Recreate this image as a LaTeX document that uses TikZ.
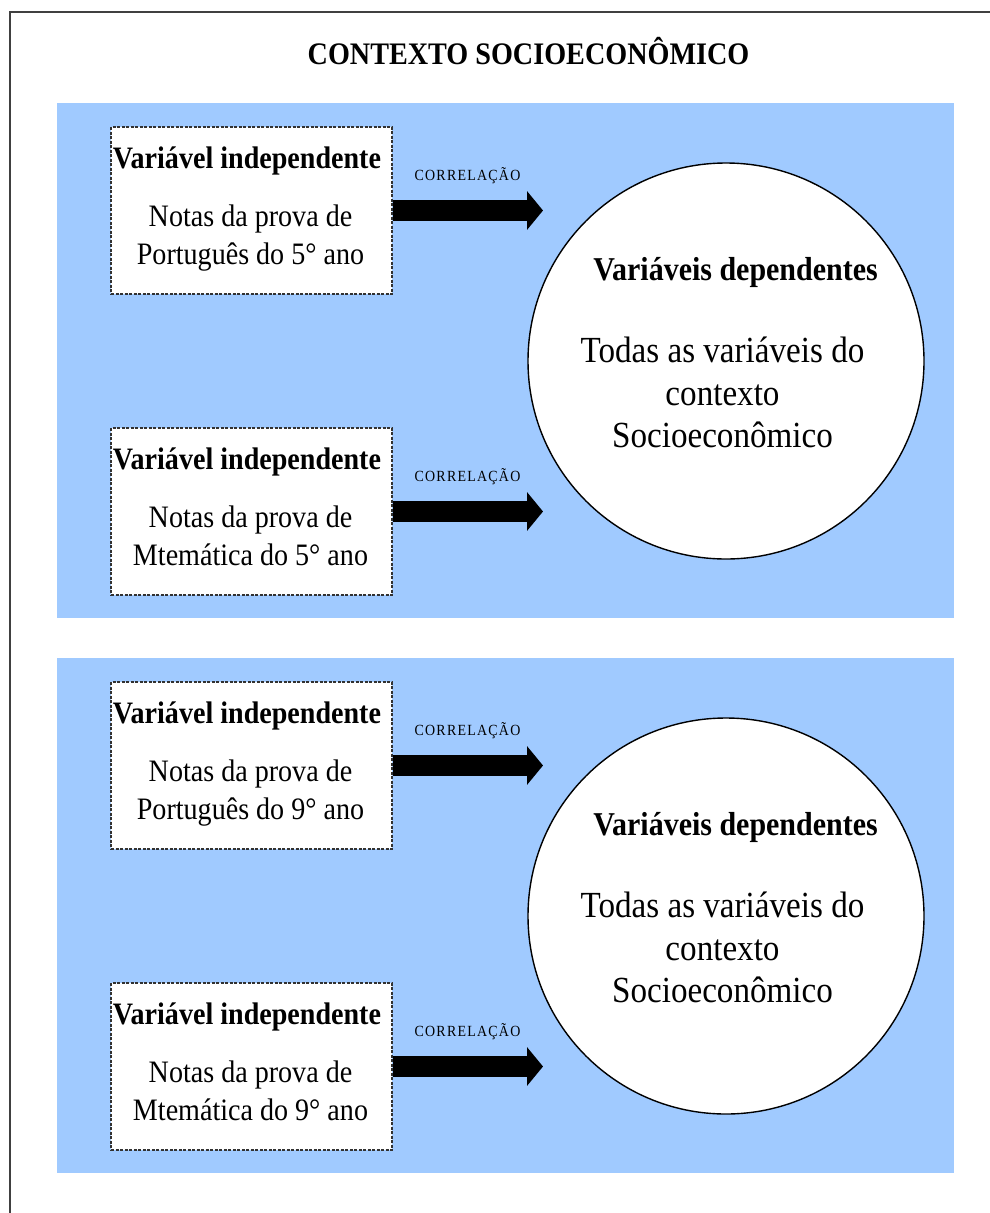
\documentclass[tikz,border=0pt]{standalone}
\usepackage{fontspec}
\setmainfont{Liberation Serif}[FakeStretch=0.9]
\usetikzlibrary{arrows.meta}
\definecolor{panelblue}{RGB}{160,202,255}
\definecolor{framegray}{RGB}{64,64,64}
\definecolor{boxgray}{RGB}{50,50,50}
\tikzset{
  panel/.style={fill=panelblue, draw=none},
  frameline/.style={draw=framegray, line width=1.5pt},
  varbox/.style={draw=boxgray, dash pattern=on 3pt off 1.5pt, line width=1.3pt, fill=white,
    minimum width=281pt, minimum height=167pt, inner sep=0pt},
  depcirc/.style={circle, draw=black, line width=1.4pt, fill=white, minimum size=396pt, inner sep=0pt},
  bigarrow/.style={line width=21pt, draw=black, -{Triangle[length=16pt,width=38pt]}},
  titletext/.style={anchor=base, inner sep=0pt, font=\fontsize{31.3}{36}\selectfont\bfseries},
  headtext/.style={anchor=base, inner sep=0pt, font=\fontsize{31.2}{36}\selectfont\bfseries},
  dephead/.style={anchor=base, inner sep=0pt, font=\fontsize{33.3}{38}\selectfont\bfseries},
  bodytext/.style={anchor=base, inner sep=0pt, font=\fontsize{31.2}{36}\selectfont},
  circtext/.style={anchor=base, inner sep=0pt, font=\fontsize{36.8}{42}\selectfont},
  corrtext/.style={anchor=base, inner sep=0pt, font=\fontsize{15.5}{18}\selectfont\addfontfeature{LetterSpace=8}},
}
\begin{document}
\begin{tikzpicture}[x=1pt,y=-1pt]
\useasboundingbox (0,0) rectangle (990,1213);
% panels
\fill[panel] (57,103) rectangle (954,618);
\fill[panel] (57,658) rectangle (954,1173);
% outer frame
\draw[frameline] (10,1213) -- (10,12) -- (990,12);
% title
\node[titletext] (title) at (528.5,64) {CONTEXTO SOCIOECONÔMICO};

% ===== panel 1 =====
\node[varbox] (b1) at (251.5,210.5) {};
\node[varbox] (b2) at (251.5,511.5) {};
\node[depcirc] (c1) at (726,361) {};
\coordinate (t1) at (543,210.5);
\coordinate (t2) at (543,511.5);
\draw[bigarrow] (b1.east) -- (t1);
\draw[bigarrow] (b2.east) -- (t2);
\node[corrtext] (r1) at (467.5,180) {CORRELAÇÃO};
\node[corrtext] (r2) at (467.5,481) {CORRELAÇÃO};

\node[headtext] (h1) at (247,168) {Variável independente};
\node[bodytext] (n1a) at (250.5,226) {Notas da prova de};
\node[bodytext] (n1b) at (250.5,264) {Português do 5° ano};
\node[headtext] (h2) at (247,469) {Variável independente};
\node[bodytext] (n2a) at (250.5,527) {Notas da prova de};
\node[bodytext] (n2b) at (250.5,565) {Mtemática do 5° ano};

\node[dephead] (d1) at (735.5,280) {Variáveis dependentes};
\node[circtext] (e1a) at (722.5,362) {Todas as variáveis do};
\node[circtext] (e1b) at (722.5,405) {contexto};
\node[circtext] (e1c) at (722.5,447) {Socioeconômico};

% ===== panel 2 =====
\node[varbox] (b3) at (251.5,765.5) {};
\node[varbox] (b4) at (251.5,1066.5) {};
\node[depcirc] (c2) at (726,916) {};
\coordinate (t3) at (543,765.5);
\coordinate (t4) at (543,1066.5);
\draw[bigarrow] (b3.east) -- (t3);
\draw[bigarrow] (b4.east) -- (t4);
\node[corrtext] (r3) at (467.5,735) {CORRELAÇÃO};
\node[corrtext] (r4) at (467.5,1036) {CORRELAÇÃO};

\node[headtext] (h3) at (247,723) {Variável independente};
\node[bodytext] (n3a) at (250.5,781) {Notas da prova de};
\node[bodytext] (n3b) at (250.5,819) {Português do 9° ano};
\node[headtext] (h4) at (247,1024) {Variável independente};
\node[bodytext] (n4a) at (250.5,1082) {Notas da prova de};
\node[bodytext] (n4b) at (250.5,1120) {Mtemática do 9° ano};

\node[dephead] (d2) at (735.5,835) {Variáveis dependentes};
\node[circtext] (e2a) at (722.5,917) {Todas as variáveis do};
\node[circtext] (e2b) at (722.5,960) {contexto};
\node[circtext] (e2c) at (722.5,1002) {Socioeconômico};
\end{tikzpicture}
\end{document}
